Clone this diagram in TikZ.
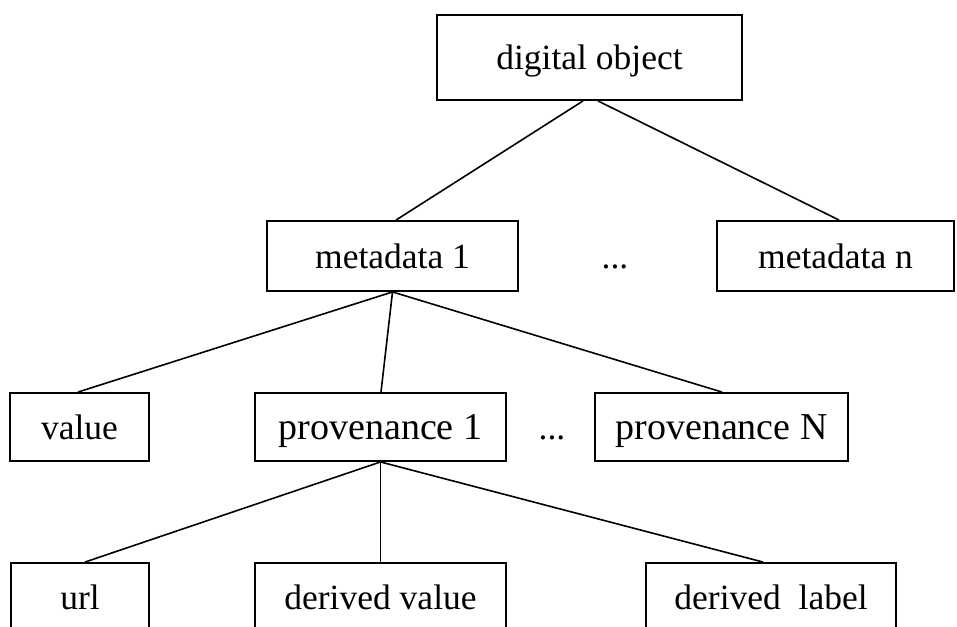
\documentclass[tikz,border=0pt]{standalone}
\usepackage{fontspec}
\setmainfont{Liberation Serif}
\usetikzlibrary{calc}
\begin{document}
\begin{tikzpicture}[x=1pt,y=-1pt,
  box/.style={draw=black, line width=1.9pt, inner sep=0pt, font=\fontsize{35.5}{40}\selectfont, text height=24pt, text depth=0pt},
  provbox/.style={box, font=\fontsize{38}{44}\selectfont},
  dotsnode/.style={inner sep=0pt, font=\fontsize{35.5}{40}\selectfont, text height=24pt, text depth=0pt},
  link/.style={draw=black, line width=1.6pt}]
\useasboundingbox (0,0) rectangle (957,626);
\clip (0,0) rectangle (957,626);
\fill[white] (0,0) rectangle (957,626);
% top
\node[box, minimum width=305pt, minimum height=85pt] (do) at (589.5,57.5) {digital object};
% level 1
\node[box, minimum width=251pt, minimum height=70pt] (m1) at (392.5,256) {metadata 1};
\node[dotsnode] (d1) at (615,256) {...};
\node[box, minimum width=237pt, minimum height=70pt] (mn) at (835.5,256) {metadata n};
% level 2
\node[box, minimum width=139pt, minimum height=68pt] (val) at (79.5,427) {value};
\node[provbox, minimum width=251pt, minimum height=68pt] (p1) at (380.5,427) {provenance 1};
\node[dotsnode] (d2) at (552,427) {...};
\node[provbox, minimum width=253pt, minimum height=68pt] (pN) at (721.5,427) {provenance N};
% level 3
\node[box, minimum width=138pt, minimum height=68pt] (url) at (80,597) {url};
\node[box, minimum width=251pt, minimum height=68pt] (dv) at (380.5,597) {derived value};
\node[box, minimum width=250pt, minimum height=68pt] (dl) at (771,597) {derived\ \ label};
% connectors
\draw[link] ($(do.south)+(-6.5pt,0)$) -- ($(m1.north)+(3.5pt,0)$);
\draw[link] ($(do.south)+(8.5pt,0)$) -- ($(mn.north)+(3.5pt,0)$);
\draw[link] (m1.south) -- ($(val.north)+(-1.5pt,0)$);
\draw[link] (m1.south) -- ($(p1.north)+(0.5pt,0)$);
\draw[link] (m1.south) -- ($(pN.north)+(0.5pt,0)$);
\draw[link] (p1.south) -- ($(url.north)+(5pt,0)$);
\draw[link] (p1.south) -- (dv.north);
\draw[link] (p1.south) -- ($(dl.north)+(-8pt,0)$);
\end{tikzpicture}
\end{document}
